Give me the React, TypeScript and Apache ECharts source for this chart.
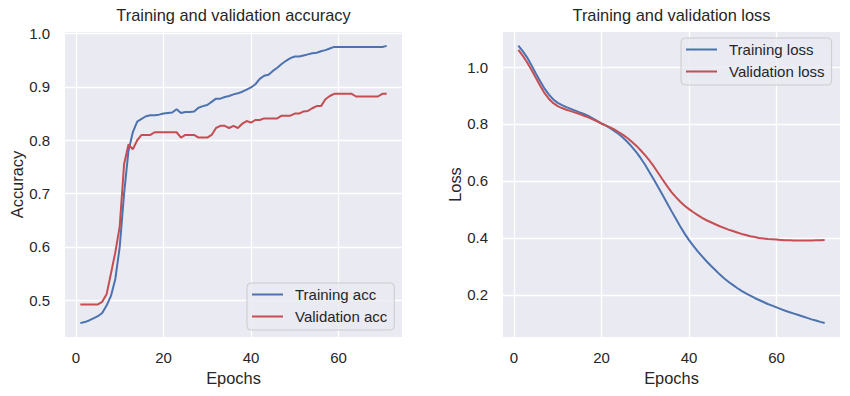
import React, { useEffect, useRef } from "react";
import * as echarts from "echarts";

const epochs = [
  1, 2, 3, 4, 5, 6, 7, 8, 9, 10,
  11, 12, 13, 14, 15, 16, 17, 18, 19, 20,
  21, 22, 23, 24, 25, 26, 27, 28, 29, 30,
  31, 32, 33, 34, 35, 36, 37, 38, 39, 40,
  41, 42, 43, 44, 45, 46, 47, 48, 49, 50,
  51, 52, 53, 54, 55, 56, 57, 58, 59, 60,
  61, 62, 63, 64, 65, 66, 67, 68, 69, 70, 71,
];

const trainAcc = [
  0.457, 0.459, 0.462, 0.466, 0.470, 0.476, 0.490, 0.508, 0.540, 0.600,
  0.700, 0.780, 0.815, 0.835, 0.840, 0.845, 0.847, 0.847, 0.848, 0.850,
  0.851, 0.852, 0.858, 0.851, 0.853, 0.853, 0.854, 0.861, 0.864, 0.866,
  0.872, 0.878, 0.878, 0.881, 0.883, 0.886, 0.888, 0.891, 0.895, 0.899,
  0.905, 0.915, 0.921, 0.923, 0.930, 0.936, 0.943, 0.949, 0.954, 0.957,
  0.957, 0.959, 0.961, 0.963, 0.964, 0.967, 0.969, 0.972, 0.975, 0.975,
  0.975, 0.975, 0.975, 0.975, 0.975, 0.975, 0.975, 0.975, 0.975, 0.975, 0.977,
];

const valAcc = [
  0.492, 0.492, 0.492, 0.492, 0.492, 0.497, 0.511, 0.550, 0.590, 0.638,
  0.755, 0.792, 0.783, 0.800, 0.810, 0.810, 0.810, 0.815, 0.815, 0.815,
  0.815, 0.815, 0.815, 0.805, 0.810, 0.810, 0.810, 0.805, 0.805, 0.805,
  0.810, 0.823, 0.827, 0.827, 0.823, 0.827, 0.823, 0.831, 0.836, 0.833,
  0.838, 0.838, 0.841, 0.841, 0.841, 0.841, 0.846, 0.846, 0.846, 0.850,
  0.850, 0.854, 0.855, 0.860, 0.864, 0.864, 0.877, 0.883, 0.887, 0.887,
  0.887, 0.887, 0.887, 0.882, 0.882, 0.882, 0.882, 0.882, 0.882, 0.887, 0.887,
];

const trainLoss = [
  1.075, 1.056, 1.034, 1.006, 0.977, 0.950, 0.924, 0.903, 0.886, 0.874,
  0.866, 0.859, 0.853, 0.847, 0.841, 0.835, 0.828, 0.820, 0.811, 0.802,
  0.794, 0.785, 0.775, 0.764, 0.751, 0.736, 0.719, 0.700, 0.679, 0.656,
  0.630, 0.604, 0.577, 0.550, 0.522, 0.494, 0.467, 0.440, 0.415, 0.392,
  0.372, 0.353, 0.335, 0.318, 0.302, 0.287, 0.272, 0.258, 0.246, 0.235,
  0.224, 0.214, 0.205, 0.197, 0.189, 0.182, 0.175, 0.168, 0.162, 0.156,
  0.150, 0.144, 0.139, 0.134, 0.129, 0.124, 0.119, 0.114, 0.110, 0.105, 0.101,
];

const valLoss = [
  1.060, 1.040, 1.017, 0.990, 0.962, 0.934, 0.908, 0.888, 0.873, 0.863,
  0.856, 0.850, 0.845, 0.840, 0.835, 0.829, 0.823, 0.816, 0.809, 0.801,
  0.795, 0.788, 0.780, 0.771, 0.761, 0.750, 0.737, 0.723, 0.707, 0.690,
  0.671, 0.650, 0.627, 0.604, 0.582, 0.561, 0.543, 0.527, 0.513, 0.501,
  0.490, 0.480, 0.470, 0.462, 0.455, 0.448, 0.441, 0.435, 0.429, 0.424,
  0.419, 0.414, 0.410, 0.406, 0.403, 0.400, 0.398, 0.396, 0.395, 0.394,
  0.393, 0.392, 0.392, 0.391, 0.391, 0.391, 0.391, 0.391, 0.392, 0.392, 0.393,
];

const xTicks = [0, 20, 40, 60];
const accTicks = [0.5, 0.6, 0.7, 0.8, 0.9, 1.0];
const lossTicks = [0.2, 0.4, 0.6, 0.8, 1.0];

const FONT = '"Liberation Sans", Arial, "DejaVu Sans", sans-serif';
const TEXT = "#262626";
const BLUE = "#4C72B0";
const RED = "#C44E52";
const BG = "#EAEAF2";

function pairs(ys: number[]) {
  return epochs.map((e, i) => [e, ys[i]]);
}

function xAxisCfg(gridIndex: number) {
  return {
    gridIndex,
    type: "value",
    min: -2.5,
    max: 74.5,
    name: "Epochs",
    nameLocation: "middle",
    nameGap: 32,
    nameTextStyle: { color: TEXT, fontSize: 16.4, fontFamily: FONT },
    axisLine: { show: false },
    axisTick: { show: false, customValues: xTicks },
    axisLabel: {
      customValues: xTicks,
      margin: 13,
      color: TEXT,
      fontSize: 15,
      fontFamily: FONT,
    },
    splitLine: { show: true, lineStyle: { color: "#ffffff", width: 1.3 } },
  };
}

function yAxisCfg(gridIndex: number, name: string, min: number, max: number, ticks: number[]) {
  return {
    gridIndex,
    type: "value",
    min,
    max,
    name,
    nameLocation: "middle",
    nameGap: 40,
    nameTextStyle: { color: TEXT, fontSize: 16.4, fontFamily: FONT },
    axisLine: { show: false },
    axisTick: { show: false, customValues: ticks },
    axisLabel: {
      customValues: ticks,
      margin: 15,
      color: TEXT,
      fontSize: 15,
      fontFamily: FONT,
      formatter: (v: number) => v.toFixed(1),
    },
    splitLine: { show: true, lineStyle: { color: "#ffffff", width: 1.3 } },
  };
}

function legendCfg(names: string[], left: number, top: number) {
  return {
    data: names,
    orient: "vertical",
    left,
    top,
    icon: "rect",
    backgroundColor: "rgba(234,234,242,0.8)",
    borderColor: "#CCCCCC",
    borderWidth: 1,
    borderRadius: 4,
    padding: [4, 7, 6, 5],
    itemWidth: 31,
    itemHeight: 2,
    itemGap: 7,
    textStyle: { color: TEXT, fontSize: 15, fontFamily: FONT, padding: [0, 0, 0, 7] },
  };
}

function lineSeries(name: string, ys: number[], color: string, idx: number) {
  return {
    name,
    type: "line",
    xAxisIndex: idx,
    yAxisIndex: idx,
    data: pairs(ys),
    symbol: "none",
    showSymbol: false,
    lineStyle: { color, width: 2 },
    itemStyle: { color },
    clip: true,
  };
}

export default function App() {
  const ref = useRef<HTMLDivElement>(null);
  useEffect(() => {
    document.body.style.margin = "0";
    if (!ref.current) return;
    const chart = echarts.init(ref.current, null, { renderer: "svg" });
    chart.setOption({
      animation: false,
      backgroundColor: "#ffffff",
      textStyle: { fontFamily: FONT },
      title: [
        {
          text: "Training and validation accuracy",
          left: 233.5,
          top: 7,
          padding: 0,
          textAlign: "center",
          textStyle: { color: TEXT, fontSize: 16.4, fontWeight: "normal", fontFamily: FONT },
        },
        {
          text: "Training and validation loss",
          left: 671.5,
          top: 7,
          padding: 0,
          textAlign: "center",
          textStyle: { color: TEXT, fontSize: 16.4, fontWeight: "normal", fontFamily: FONT },
        },
      ],
      grid: [
        { left: 65, top: 32, width: 337, height: 305, show: true, backgroundColor: BG, borderWidth: 0 },
        { left: 503, top: 32, width: 337, height: 305, show: true, backgroundColor: BG, borderWidth: 0 },
      ],
      xAxis: [xAxisCfg(0), xAxisCfg(1)],
      yAxis: [
        yAxisCfg(0, "Accuracy", 0.431, 1.003, accTicks),
        yAxisCfg(1, "Loss", 0.052, 1.123, lossTicks),
      ],
      legend: [
        legendCfg(["Training acc", "Validation acc"], 247, 283),
        legendCfg(["Training loss", "Validation loss"], 681, 38),
      ],
      series: [
        lineSeries("Training acc", trainAcc, BLUE, 0),
        lineSeries("Validation acc", valAcc, RED, 0),
        lineSeries("Training loss", trainLoss, BLUE, 1),
        lineSeries("Validation loss", valLoss, RED, 1),
      ],
    });
    return () => chart.dispose();
  }, []);
  return <div ref={ref} style={{ width: 850, height: 396 }} />;
}
